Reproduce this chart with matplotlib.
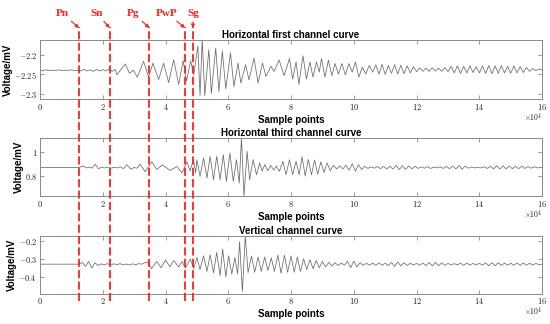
import matplotlib
matplotlib.use('Agg')
import matplotlib.pyplot as plt
from matplotlib.ticker import FuncFormatter
from matplotlib.transforms import blended_transform_factory
from matplotlib.lines import Line2D

plt.rcParams['mathtext.fontset'] = 'cm'

# ---------------- data (x in units of 1e4 sample points, y in mV) ----------------
h1_points = [
    (0.0, -2.240), (0.1, -2.241), (0.2, -2.239), (0.3, -2.241), (0.4, -2.240), (0.5, -2.241),
    (0.6, -2.239), (0.7, -2.241), (0.8, -2.240), (0.9, -2.241), (1.0, -2.239), (1.1, -2.241),
    (1.2, -2.240), (1.3, -2.242), (1.4, -2.238), (1.5, -2.242), (1.6, -2.239), (1.7, -2.243),
    (1.8, -2.238), (1.9, -2.242), (2.0, -2.239), (2.1, -2.242), (2.2, -2.237), (2.3, -2.243),
    (2.4, -2.238), (2.45, -2.252), (2.6, -2.236), (2.72, -2.224), (2.85, -2.248), (2.98, -2.240),
    (3.1, -2.258), (3.3, -2.217), (3.46, -2.258), (3.6, -2.222), (3.78, -2.264), (3.94, -2.222),
    (4.1, -2.272), (4.26, -2.213), (4.42, -2.277), (4.56, -2.215), (4.67, -2.268), (4.8, -2.216),
    (4.9, -2.252), (5.03, -2.178), (5.1, -2.305), (5.17, -2.160), (5.25, -2.305), (5.38, -2.187),
    (5.46, -2.300), (5.6, -2.183), (5.7, -2.295), (5.81, -2.191), (5.92, -2.288), (6.07, -2.196),
    (6.18, -2.282), (6.31, -2.222), (6.4, -2.273), (6.55, -2.226), (6.66, -2.265), (6.82, -2.209),
    (6.95, -2.273), (7.09, -2.222), (7.2, -2.256), (7.36, -2.230), (7.46, -2.243), (7.62, -2.214),
    (7.78, -2.254), (7.95, -2.210), (8.05, -2.263), (8.16, -2.219), (8.25, -2.276), (8.38, -2.203),
    (8.49, -2.263), (8.6, -2.219), (8.7, -2.258), (8.81, -2.219), (8.9, -2.245), (8.97, -2.210),
    (9.08, -2.258), (9.19, -2.214), (9.3, -2.254), (9.4, -2.223), (9.51, -2.250), (9.62, -2.223),
    (9.73, -2.252), (9.84, -2.223), (9.95, -2.245), (10.05, -2.219), (10.16, -2.258), (10.27, -2.232),
    (10.38, -2.250), (10.49, -2.228), (10.6, -2.245), (10.7, -2.226), (10.8, -2.250), (10.9, -2.225),
    (11.0, -2.251), (11.1, -2.228), (11.2, -2.248), (11.3, -2.226), (11.4, -2.250), (11.5, -2.227),
    (11.6, -2.249), (11.7, -2.229), (11.8, -2.247), (11.9, -2.231), (12.0, -2.244), (12.1, -2.234),
    (12.2, -2.243), (12.3, -2.235), (12.4, -2.243), (12.5, -2.234), (12.6, -2.242), (12.7, -2.235),
    (12.8, -2.243), (12.9, -2.233), (13.0, -2.244), (13.1, -2.230), (13.2, -2.247), (13.3, -2.229),
    (13.4, -2.248), (13.5, -2.230), (13.6, -2.247), (13.7, -2.229), (13.8, -2.246), (13.9, -2.231),
    (14.0, -2.247), (14.1, -2.229), (14.2, -2.248), (14.3, -2.228), (14.4, -2.249), (14.5, -2.229),
    (14.6, -2.248), (14.7, -2.228), (14.8, -2.247), (14.9, -2.230), (15.0, -2.248), (15.1, -2.229),
    (15.2, -2.247), (15.3, -2.231), (15.4, -2.246), (15.5, -2.233), (15.6, -2.243), (15.7, -2.236),
    (15.8, -2.241), (15.9, -2.237), (16.0, -2.240),
]

h3_points = [
    (0.0, 0.872), (0.5, 0.872), (1.0, 0.872), (1.25, 0.871), (1.3, 0.878), (1.38, 0.885),
    (1.48, 0.868), (1.58, 0.876), (1.66, 0.866), (1.76, 0.900), (1.86, 0.862), (1.96, 0.874),
    (2.06, 0.868), (2.16, 0.876), (2.26, 0.866), (2.36, 0.874), (2.46, 0.868), (2.56, 0.878),
    (2.66, 0.862), (2.77, 0.895), (2.9, 0.858), (3.0, 0.872), (3.09, 0.866), (3.19, 0.900),
    (3.35, 0.836), (3.56, 0.921), (3.72, 0.855), (3.9, 0.893), (4.05, 0.866), (4.15, 0.848),
    (4.36, 0.880), (4.52, 0.828), (4.6, 0.870), (4.68, 0.921), (4.78, 0.845), (4.89, 0.935),
    (4.96, 0.828), (5.0, 0.938), (5.1, 0.797), (5.21, 0.952), (5.32, 0.783), (5.42, 0.966),
    (5.53, 0.769), (5.63, 0.966), (5.74, 0.769), (5.84, 0.980), (5.94, 0.755), (6.05, 0.994),
    (6.16, 0.755), (6.26, 0.938), (6.35, 0.741), (6.42, 1.120), (6.5, 0.630), (6.6, 1.008),
    (6.68, 0.769), (6.79, 0.938), (6.9, 0.811), (7.0, 0.910), (7.08, 0.840), (7.16, 0.896),
    (7.26, 0.845), (7.35, 0.890), (7.45, 0.850), (7.53, 0.885), (7.63, 0.840), (7.74, 0.924),
    (7.84, 0.811), (7.95, 0.938), (8.05, 0.811), (8.16, 0.924), (8.26, 0.810), (8.35, 0.963),
    (8.45, 0.800), (8.55, 0.940), (8.65, 0.810), (8.75, 0.935), (8.85, 0.815), (8.95, 0.920),
    (9.05, 0.830), (9.15, 0.910), (9.25, 0.845), (9.35, 0.890), (9.45, 0.860), (9.55, 0.885),
    (9.65, 0.860), (9.75, 0.890), (9.85, 0.850), (9.95, 0.905), (10.05, 0.840), (10.15, 0.895),
    (10.25, 0.855), (10.35, 0.882), (10.45, 0.864), (10.55, 0.878), (10.65, 0.866), (10.75, 0.880),
    (10.85, 0.862), (10.95, 0.882), (11.05, 0.860), (11.15, 0.884), (11.25, 0.858), (11.35, 0.890),
    (11.45, 0.855), (11.55, 0.888), (11.65, 0.856), (11.75, 0.886), (11.85, 0.860), (11.95, 0.882),
    (12.05, 0.864), (12.15, 0.878), (12.25, 0.866), (12.35, 0.880), (12.45, 0.864), (12.55, 0.876),
    (12.65, 0.868), (12.75, 0.878), (12.85, 0.864), (12.95, 0.882), (13.05, 0.862), (13.15, 0.884),
    (13.25, 0.860), (13.35, 0.888), (13.45, 0.858), (13.55, 0.884), (13.65, 0.866), (13.75, 0.876),
    (13.85, 0.868), (13.95, 0.874), (14.05, 0.868), (14.15, 0.878), (14.25, 0.864), (14.35, 0.882),
    (14.45, 0.860), (14.55, 0.886), (14.65, 0.858), (14.75, 0.886), (14.85, 0.860), (14.95, 0.884),
    (15.05, 0.862), (15.15, 0.882), (15.25, 0.862), (15.35, 0.884), (15.45, 0.864), (15.55, 0.880),
    (15.65, 0.866), (15.75, 0.878), (15.85, 0.868), (15.95, 0.872), (16.0, 0.870),
]

v_points = [
    (0.0, -0.330), (0.6, -0.330), (1.24, -0.330), (1.3, -0.326), (1.35, -0.320), (1.45, -0.343),
    (1.55, -0.315), (1.65, -0.352), (1.75, -0.322), (1.85, -0.338), (1.95, -0.328), (2.05, -0.334),
    (2.15, -0.327), (2.25, -0.335), (2.35, -0.328), (2.45, -0.333), (2.55, -0.327), (2.65, -0.334),
    (2.75, -0.329), (2.85, -0.335), (2.95, -0.328), (3.05, -0.333), (3.15, -0.327), (3.25, -0.330),
    (3.35, -0.320), (3.45, -0.322), (3.55, -0.355), (3.72, -0.315), (3.86, -0.350), (4.0, -0.307),
    (4.14, -0.345), (4.26, -0.310), (4.42, -0.345), (4.53, -0.315), (4.63, -0.352), (4.79, -0.302),
    (4.9, -0.355), (5.0, -0.293), (5.1, -0.360), (5.21, -0.283), (5.32, -0.370), (5.42, -0.278),
    (5.53, -0.378), (5.63, -0.265), (5.74, -0.394), (5.82, -0.246), (5.92, -0.400), (6.01, -0.283),
    (6.11, -0.385), (6.21, -0.293), (6.3, -0.385), (6.36, -0.205), (6.45, -0.482), (6.54, -0.172),
    (6.63, -0.376), (6.74, -0.285), (6.84, -0.375), (6.95, -0.290), (7.05, -0.370), (7.16, -0.290),
    (7.26, -0.365), (7.37, -0.295), (7.47, -0.370), (7.58, -0.280), (7.68, -0.380), (7.79, -0.280),
    (7.89, -0.375), (8.0, -0.285), (8.1, -0.375), (8.2, -0.290), (8.3, -0.370), (8.4, -0.300),
    (8.5, -0.360), (8.6, -0.305), (8.7, -0.355), (8.8, -0.310), (8.9, -0.350), (9.0, -0.315),
    (9.1, -0.345), (9.2, -0.320), (9.3, -0.340), (9.4, -0.322), (9.5, -0.338), (9.6, -0.324),
    (9.7, -0.336), (9.8, -0.315), (9.9, -0.350), (10.0, -0.312), (10.1, -0.345), (10.2, -0.322),
    (10.3, -0.337), (10.4, -0.325), (10.5, -0.336), (10.6, -0.324), (10.7, -0.337), (10.8, -0.323),
    (10.9, -0.336), (11.0, -0.325), (11.1, -0.338), (11.2, -0.320), (11.3, -0.342), (11.4, -0.318),
    (11.5, -0.340), (11.6, -0.322), (11.7, -0.337), (11.8, -0.325), (11.9, -0.335), (12.0, -0.326),
    (12.1, -0.336), (12.2, -0.324), (12.3, -0.338), (12.4, -0.321), (12.5, -0.340), (12.6, -0.320),
    (12.7, -0.339), (12.8, -0.323), (12.9, -0.336), (13.0, -0.326), (13.1, -0.334), (13.2, -0.327),
    (13.3, -0.334), (13.4, -0.325), (13.5, -0.336), (13.6, -0.324), (13.7, -0.335), (13.8, -0.326),
    (13.9, -0.334), (14.0, -0.325), (14.1, -0.336), (14.2, -0.323), (14.3, -0.338), (14.4, -0.322),
    (14.5, -0.339), (14.6, -0.322), (14.7, -0.337), (14.8, -0.324), (14.9, -0.336), (15.0, -0.325),
    (15.1, -0.336), (15.2, -0.324), (15.3, -0.337), (15.4, -0.323), (15.5, -0.336), (15.6, -0.325),
    (15.7, -0.335), (15.8, -0.326), (15.9, -0.333), (16.0, -0.330),
]

titles = ["Horizontal first channel curve", "Horizontal third channel curve", "Vertical channel curve"]
ylims = [(-2.3145, -2.162), (0.629, 1.123), (-0.494, -0.172)]
yticks = [[-2.3, -2.25, -2.2], [0.8, 1.0], [-0.4, -0.3, -0.2]]
xticks = [0, 2, 4, 6, 8, 10, 12, 14, 16]          # in units of 1e4
phase_names = ["Pn", "Sn", "Pg", "PwP", "Sg"]
phase_x = [1.243, 2.22, 3.485, 4.62, 4.866]       # in units of 1e4
SCALE = 1e4

# ---------------- layout ----------------
fig = plt.figure(figsize=(5.5, 3.24), dpi=100)
positions = [[0.0727, 0.694, 0.913, 0.183],
             [0.0727, 0.394, 0.913, 0.181],
             [0.0727, 0.0935, 0.913, 0.179]]
traces = [h1_points, h3_points, v_points]
spine_c = '#8a8a8a'
axes = []
for pos, pts, title, yl, yt in zip(positions, traces, titles, ylims, yticks):
    ax = fig.add_axes(pos)
    xs = [p[0] * SCALE for p in pts]
    ys = [p[1] for p in pts]
    ax.plot(xs, ys, color='#6a6a6a', lw=0.55)
    ax.set_xlim(0, 16 * SCALE)
    ax.set_ylim(*yl)
    ax.set_xticks([t * SCALE for t in xticks])
    ax.set_yticks(yt)
    ax.xaxis.set_major_formatter(FuncFormatter(lambda v, p: r'$%d$' % round(v / SCALE)))
    ax.yaxis.set_major_formatter(FuncFormatter(lambda v, p: r'$%g$' % v))
    ax.tick_params(direction='in', top=True, right=True, length=3, width=0.6,
                   color=spine_c, labelsize=6, pad=2, labelcolor='#222222')
    for s in ax.spines.values():
        s.set_color(spine_c)
        s.set_linewidth(0.7)
    ax.set_title(title, fontsize=7, fontweight='bold', family='Liberation Sans', pad=1.5)
    ax.set_ylabel('Voltage/mV', fontsize=7, fontweight='bold', family='Liberation Sans', labelpad=1)
    ax.set_xlabel('Sample points', fontsize=7, fontweight='bold', family='Liberation Sans', labelpad=2)
    ax.text(1.0, -0.31, r'$\times10^4$', transform=ax.transAxes, ha='right', va='center',
            fontsize=5.5, color='#222222')
    axes.append(ax)

ax1 = axes[0]
trans = blended_transform_factory(ax1.transData, fig.transFigure)
y_top = 1 - 27 / 324
y_bot = 1 - 301 / 324
text_offsets = [(-17, 15), (-13, 15), (-16, 15), (-18, 15), (1, 15)]
for name, px, off in zip(phase_names, phase_x, text_offsets):
    fig.add_artist(Line2D([px * SCALE, px * SCALE], [y_bot, y_top], transform=trans,
                          color='#ff1f1f', lw=1.3, ls=(0, (4.5, 1.8))))
    ax1.annotate(name, xy=(px * SCALE, 1 - 28 / 324), xycoords=('data', 'figure fraction'),
                 xytext=off, textcoords='offset pixels', ha='center', va='center',
                 color='#ff1f1f', fontweight='bold', family='Liberation Serif', fontsize=8,
                 annotation_clip=False,
                 arrowprops=dict(arrowstyle='-|>', color='#ff1f1f', lw=0.8,
                                 mutation_scale=5, shrinkA=1, shrinkB=0))

fig.savefig('out.png', dpi=100)
